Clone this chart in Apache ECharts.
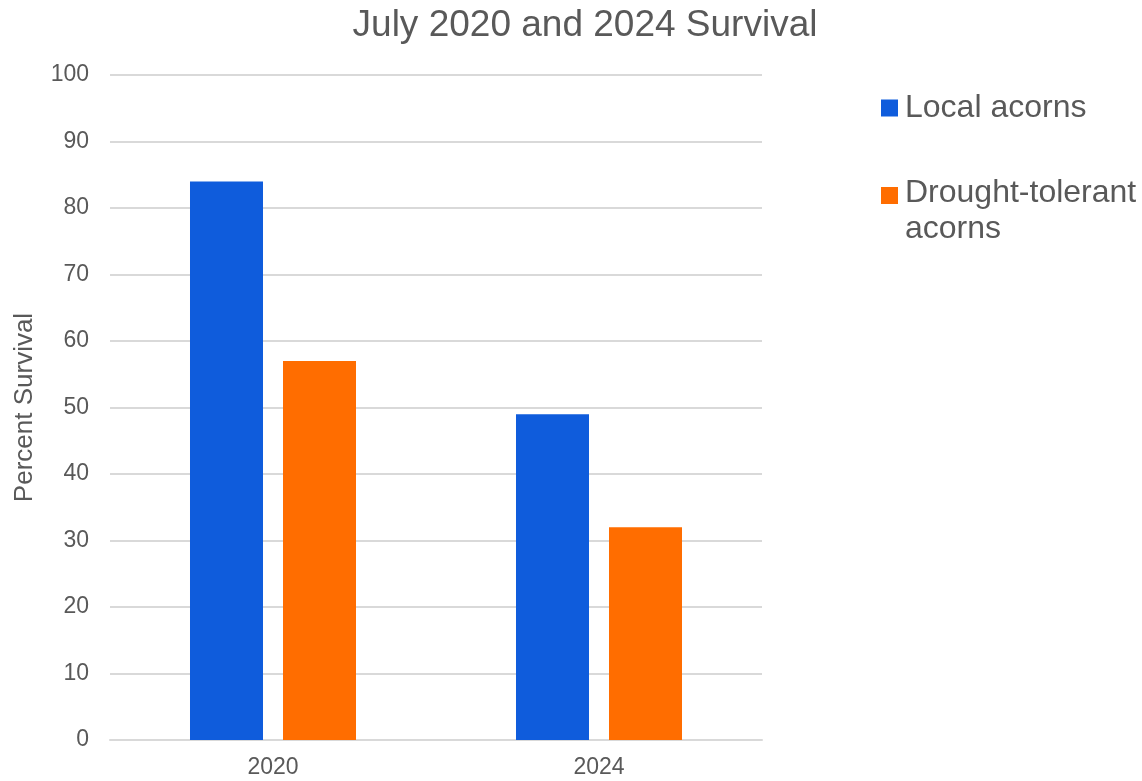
<!DOCTYPE html>
<html>
<head>
<meta charset="utf-8">
<script src="https://cdn.jsdelivr.net/npm/echarts@6/dist/echarts.min.js"></script>
<style>
html,body{margin:0;padding:0;background:#fff;}
#chart{width:1142px;height:781px;}
</style>
</head>
<body>
<div id="chart"></div>
<script>
const categories = ['2020', '2024'];
const localAcorns = [84, 49];
const droughtTolerant = [57, 32];
const seriesNames = ['Local acorns', 'Drought-tolerant acorns'];
const yTicks = {min: 0, max: 100, interval: 10};

const FONT = '"Liberation Sans", Arial, sans-serif';
const TEXT = '#595959';

const chart = echarts.init(document.getElementById('chart'));
chart.setOption({
  animation: false,
  backgroundColor: '#ffffff',
  title: {
    text: 'July 2020 and 2024 Survival',
    left: 580,
    textAlign: 'center',
    top: 2,
    textStyle: {fontFamily: FONT, fontSize: 37, fontWeight: 'normal', color: TEXT}
  },
  legend: [
    {
      data: [seriesNames[0]],
      orient: 'vertical',
      left: 881,
      top: 90,
      padding: 0,
      itemWidth: 17,
      itemHeight: 17,
      icon: 'rect',
      itemGap: 0,
      textStyle: {fontFamily: FONT, fontSize: 32, color: TEXT, lineHeight: 36, padding: [0, 0, 0, 2]}
    },
    {
      data: [seriesNames[1]],
      orient: 'vertical',
      left: 881,
      top: 175,
      padding: 0,
      itemWidth: 17,
      itemHeight: 48,
      icon: 'path://M0,0L17,0L17,17L0,17Z M0,48L0.01,48L0.01,47.99Z',
      formatter: function () { return 'Drought-tolerant\nacorns'; },
      textStyle: {fontFamily: FONT, fontSize: 32, color: TEXT, lineHeight: 36, padding: [0, 0, 0, 2]}
    }
  ],
  grid: {left: 110, right: 380, top: 75, bottom: 41, containLabel: false},
  xAxis: {
    type: 'category',
    data: categories,
    axisLine: {show: true, lineStyle: {color: '#d9d9d9', width: 2}},
    axisTick: {show: false},
    axisLabel: {fontFamily: FONT, fontSize: 23, color: TEXT, margin: 16}
  },
  yAxis: {
    type: 'value',
    min: yTicks.min,
    max: yTicks.max,
    interval: yTicks.interval,
    name: 'Percent Survival',
    nameLocation: 'middle',
    nameGap: 72,
    nameTextStyle: {fontFamily: FONT, fontSize: 26, color: TEXT},
    axisLine: {show: false},
    axisTick: {show: false},
    axisLabel: {fontFamily: FONT, fontSize: 23, color: TEXT, margin: 21, padding: [5, 0, 0, 0]},
    splitLine: {lineStyle: {color: '#d9d9d9', width: 2}}
  },
  series: [
    {
      name: seriesNames[0],
      type: 'bar',
      data: localAcorns,
      barWidth: 73,
      barGap: '27.4%',
      itemStyle: {color: '#0f5cdc'}
    },
    {
      name: seriesNames[1],
      type: 'bar',
      data: droughtTolerant,
      barWidth: 73,
      barGap: '27.4%',
      itemStyle: {color: '#ff6d00'}
    }
  ]
});
</script>
</body>
</html>
